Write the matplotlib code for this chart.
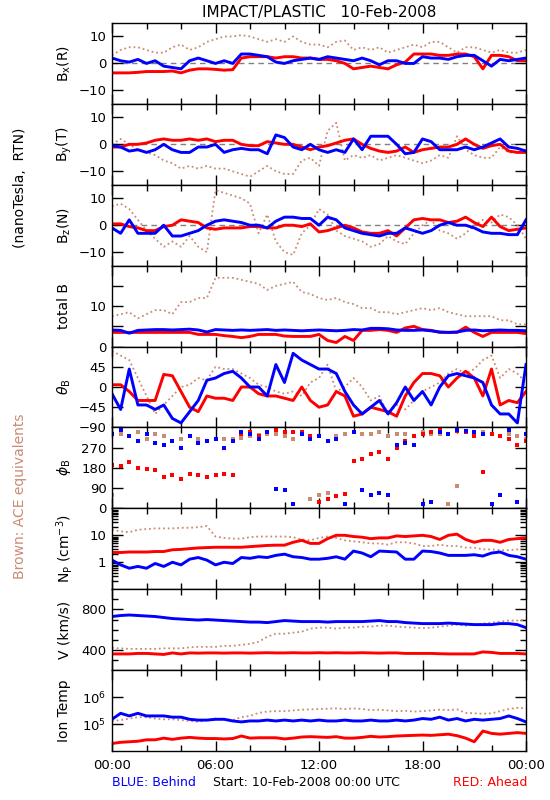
import numpy as np
import matplotlib
matplotlib.use("Agg")
import matplotlib.pyplot as plt
from matplotlib.ticker import LogLocator, NullFormatter, FixedLocator

plt.rcParams['font.family'] = ['DejaVu Sans']
plt.rcParams['mathtext.fontset'] = 'dejavusans'

# half-hour samples, 00:00 -> 24:00 (hours)
hours = np.arange(49) * 0.5

BLUE = "#0000ff"
RED = "#ff0000"
ACE = "#c98b72"

# ---- B_x (R) ----
bx_red = [-3.5, -3.5, -3.5, -3.3, -3, -3, -3, -2.8, -3.5, -2.5, -2, -2, -2.2, -2.5, -2.3,
          2, 2.5, 2.5, 2.5, 2, 2.5, 2.5, 2, 2, 1.5, 1.5, 1, 0, -2, -1.5, -1, -1.5, -2,
          -0.5, 0.5, 3.5, 3.5, 3.5, 3, 3, 3.5, 3.5, 2.5, -2, 3, 3, 2.5, 1, 1]
bx_blue = [2, 1, 0.5, 1.5, 0, 1, -1, -1.5, -2, 1, 2, 1, 0, 1, 0, 3.5, 3.5, 3, 2.5, 0.5,
           0, 1, 1.5, 2, 1.5, 2.5, 2, 1.5, 1, 2, 1, -0.5, 1, 1, 0, 0, 2.5, 2, 2, 1.5,
           2.5, 3, 3, 1, -1, 1.5, 1, 1.5, 2]
bx_ace = [3, 5, 6, 6, 5, 4, 4, 6, 7, 5, 6, 8, 9, 10, 10, 10.5, 10, 9, 8, 9, 8, 10, 8, 7,
          7, 6, 8, 8.5, 5, 6, 5, 6, 4, 5, 6, 7, 6, 8, 8, 6, 4, 6, 6, 5, 4, 5, 4, 4, 5]

# ---- B_y (T) ----
by_red = [-1, -1, 0, 0, 0.5, 1.5, 2, 1.5, 1.5, 2, 1.5, 2, 1, 1.5, 1.5, 0, -0.5, -0.5, 1,
          0.5, 0, 0, -1, -2, -1, -0.5, 0.5, 1.5, 2, 0, -1.5, -2.5, -3, -2.5, -1, -3, -2,
          -1.5, -1, -1, 0, 2, 0, -1.5, -0.5, 0, -2.5, -3, -3]
by_blue = [-0.5, -1, -2.5, -2, -3, -2, 0, -2, -3, -3, -1, -1, 0, -3, -2, -1.5, -2, -2,
           -3.5, 3.5, 2.5, -1, -2, 0, -2, -3, -2, -3, 2, -2, 3, 3, 3, 0, -3.5, -3, 2, 1,
           -2, -2, -2, -1, -2, -1, 0.5, 2, -1, -1.5, -2.5]
by_ace = [0, 2, 0, -2, -3, -4, -6, -7, -9, -8, -9, -8, -9, -9, -10, -11, -12, -10, -8,
          -10, -11, -11, -6, -5, -8, 5, 8, -6, -4, -5, -4, -6, -5, -4, -5, -6, -7, -6,
          -4, -5, 3, -2, -4, -5, -5, -1, -3, -3, -2]

# ---- B_z (N) ----
bz_red = [0.5, 0.5, -0.5, -1, -2, -2, -0.5, 0, 2, 1.5, 1, -1, -1.5, -1, -1, -1, -0.5,
          -0.5, -1, -1, 0, 0, -0.5, 0.5, -2.5, -2, -1, 0, -1, -2.5, -3, -3, -2, -4, -1,
          2, 2.5, 2, 2, 1, 1.5, 3, 1, -0.5, 3, -0.5, -2, -1.5, -1]
bz_blue = [-1, -3, 2, -3, -3, -3, 0, -4, -4, -3, -2, 0, 1.5, 2, 1.5, 1, 0, 0, -1, 1.5, 3,
           3, 2.5, 2.5, 0, 3, 2, -1, -2, -3, -3.5, -4, -3, -3, -1, -2, -3, -2, 0, 1, 0,
           0, -1, -2.5, -3, -3, -3.5, -3.5, 2]
bz_ace = [7, 8, 6, 2, -2, -5, -8, -6, -8, -4, -8, -10, 13, 12, 11, 10, 8, -3, 4, -6,
          -10, -11, -3, 0, 6, 4, -2, -4, -5, -6, -8, -7, -4, -6, -7, -3, 0, 2, -2, -3,
          -5, -3, 0, 2, 1, 4, 3, 0, -5]

# ---- total B ----
bt_red = [3.5, 3.5, 3.5, 3.5, 3.5, 3.5, 3.5, 3.5, 3.5, 3.5, 3, 3, 3, 2.7, 2.5, 2.2, 2.5,
          3, 3, 3, 2.6, 2.5, 2.5, 2.5, 3, 1.5, 1, 2.5, 1.5, 4, 4, 4.2, 4, 3.5, 4.6, 5,
          4.2, 4, 3.5, 3.5, 3.5, 4.8, 3.5, 2.5, 3.5, 3.5, 3.5, 3.5, 3.2]
bt_blue = [4.1, 4, 3.3, 4, 4.1, 4.2, 4.2, 4.1, 4.2, 4.3, 4.1, 3.6, 4.2, 4.1, 4, 4.1, 4,
           4.1, 4.2, 4, 4.1, 4, 3.9, 4, 4.1, 4, 3.9, 4, 4.2, 4.1, 4.5, 4.5, 4.4, 4.1, 4,
           4, 4.1, 3.9, 3.6, 3.5, 3.6, 4, 4.1, 3.9, 4, 4.1, 4, 4, 3.9]
bt_ace = [7.5, 8, 8.5, 7, 8, 9, 9, 8, 11, 11, 12, 12, 17, 17, 17, 16.5, 16, 15.5, 14,
          15, 15.5, 16, 13.5, 13, 12, 11.5, 12, 11, 10.5, 9.5, 9.5, 8.5, 8.5, 8, 8.5, 9,
          9.5, 9, 9.5, 8.5, 8, 7.5, 7.5, 7.5, 7.5, 6.5, 6.5, 5.5, 5.5]

# ---- theta_B ----
th_red = [5, 5, -10, -30, -30, -30, 28, 25, -10, -45, -55, -20, -25, -25, -30, 0, 0,
          -15, -20, -20, -25, -30, 0, -30, -45, -40, -10, -20, -65, -60, -45, -50, -55,
          -65, -20, 10, 30, 30, 25, 0, 20, 35, 20, -20, 40, -40, -30, -35, -10]
th_blue = [-15, -50, 40, -40, -40, -50, -40, -70, -80, -55, -30, 15, 20, 30, 35, 20, 0,
           0, -20, 50, 10, 75, 60, 50, 40, 40, 30, -10, -40, -60, -45, -30, -60, -35, 0,
           -30, -10, -40, 0, 25, 30, 25, 20, 10, -40, -60, -60, -80, 50]
th_ace = [80, 70, 60, 20, -20, -60, -40, -20, 0, 5, 20, 15, 45, 40, 40, 30, 20, 5, 0,
          -10, -15, -10, -20, 10, 20, 50, -10, 0, 20, 0, -30, -20, -60, -40, -50, -30,
          -10, 0, 10, 30, 40, 30, 40, 60, 70, 20, 40, 30, 10]

# ---- phi_B ----
ph_red = [195, 190, 205, 180, 175, 170, 140, 150, 130, 155, 150, 140, 150, 155, 150,
          330, 340, 320, 340, 350, 340, 340, 340, 320, 30, 40, 55, 65, 210, 220, 240,
          250, 220, 270, 300, 320, 330, 340, 350, 330, 345, 340, 320, 160, 330, 320,
          310, 280, 300]
ph_blue = [330, 350, 320, 300, 330, 290, 280, 300, 270, 320, 290, 300, 310, 270, 300,
           340, 330, 310, 340, 85, 80, 20, 330, 310, 320, 300, 310, 20, 340, 80, 60, 70,
           60, 280, 290, 280, 20, 30, 340, 330, 350, 345, 340, 330, 20, 60, 350, 30, 330]
ph_ace = [60, 330, 320, 340, 310, 330, 320, 300, 310, 320, 310, 300, 310, 310, 310, 315,
          320, 325, 330, 330, 320, 310, 330, 40, 60, 70, 320, 330, 340, 330, 330, 340,
          320, 330, 330, 320, 340, 330, 330, 20, 100, 340, 320, 340, 330, 320, 330, 320,
          310]

# ---- N_p ----
np_red = [2.3, 2.3, 2.4, 2.4, 2.4, 2.5, 2.5, 2.9, 3, 3.2, 3.4, 3.5, 3.6, 3.6, 3.6, 3.6,
          3.8, 4, 4.2, 4.3, 4.3, 5.5, 6.5, 5, 5, 7.5, 10, 10, 9, 8.5, 7.5, 8, 8, 9.5, 9,
          9.5, 10, 9, 7, 10, 11, 7, 5.5, 6.5, 6.5, 5.5, 7, 7.5, 8]
np_blue = [1.2, 0.8, 0.6, 0.7, 0.6, 0.9, 0.7, 1, 0.8, 1.3, 1.5, 1.2, 0.8, 1, 0.9, 1.5,
           1.4, 1.6, 1.5, 1.8, 2, 1.6, 1.5, 1.3, 1.3, 1.4, 1.6, 1.3, 2.6, 2.2, 1.6, 2.6,
           2.5, 2.4, 1.3, 1.3, 2.6, 2.5, 2.2, 1.8, 1.8, 1.8, 1.9, 1.7, 2.2, 2.4, 1.8, 1.6,
           1.3]
np_ace = [16, 14, 13, 16, 17, 18, 18, 18, 19, 19, 20, 22, 9, 8, 7.5, 7.5, 8.5, 9, 9, 9,
          9, 8.5, 7, 6.5, 8, 9, 8, 6.5, 6, 5.5, 5, 5, 4.5, 5.5, 5.5, 5, 4, 4, 4.5, 4, 4,
          3.5, 3.5, 3, 3, 2.8, 2.8, 3, 3.5]

# ---- V ----
v_red = [360, 360, 360, 365, 365, 360, 355, 370, 360, 370, 368, 370, 370, 368, 370, 370,
         368, 370, 372, 370, 370, 372, 370, 370, 372, 370, 372, 370, 370, 372, 370, 368,
         370, 370, 365, 365, 365, 365, 362, 360, 360, 360, 360, 380, 375, 365, 365, 365,
         360]
v_blue = [730, 740, 745, 740, 735, 730, 720, 710, 705, 700, 695, 700, 695, 690, 685,
          680, 675, 675, 670, 680, 690, 685, 680, 680, 680, 675, 680, 680, 680, 680, 685,
          690, 680, 680, 670, 665, 660, 660, 660, 665, 660, 655, 650, 650, 650, 660, 660,
          650, 620]
v_ace = [420, 415, 410, 410, 410, 410, 415, 415, 415, 425, 430, 430, 430, 440, 440, 450,
         460, 480, 530, 560, 560, 570, 580, 610, 620, 620, 610, 620, 620, 630, 630, 640,
         640, 630, 625, 620, 615, 620, 630, 640, 650, 640, 650, 660, 670, 680, 690, 690,
         700]

# ---- Ion temperature ----
t_red = [1.9e4, 2.1e4, 2.2e4, 2.3e4, 2.6e4, 2.6e4, 3.0e4, 2.7e4, 3.0e4, 3.2e4, 3.0e4,
         2.9e4, 2.9e4, 2.8e4, 2.9e4, 3.6e4, 3.0e4, 3.1e4, 3.1e4, 3.1e4, 2.8e4, 3.0e4,
         3.3e4, 3.4e4, 3.3e4, 3.2e4, 3.4e4, 3.0e4, 3.0e4, 3.2e4, 3.5e4, 3.3e4, 3.4e4,
         3.6e4, 3.7e4, 3.8e4, 3.9e4, 3.8e4, 4.0e4, 4.2e4, 3.7e4, 3.0e4, 2.2e4, 5.5e4,
         4.5e4, 4.2e4, 4.5e4, 4.8e4, 4.5e4]
t_blue = [1.5e5, 2.5e5, 2.0e5, 2.5e5, 2.0e5, 2.0e5, 2.0e5, 1.8e5, 1.8e5, 1.5e5, 1.4e5,
          1.4e5, 1.5e5, 1.5e5, 1.3e5, 1.2e5, 1.3e5, 1.3e5, 1.4e5, 1.3e5, 1.4e5, 1.3e5,
          1.4e5, 1.3e5, 1.4e5, 1.3e5, 1.3e5, 1.4e5, 1.3e5, 1.3e5, 1.4e5, 1.3e5, 1.3e5,
          1.4e5, 1.3e5, 1.4e5, 1.6e5, 1.5e5, 1.8e5, 1.4e5, 1.6e5, 1.3e5, 1.5e5, 1.4e5,
          1.5e5, 1.6e5, 2.0e5, 1.6e5, 1.2e5]
t_ace = [1.3e5, 1.4e5, 1.6e5, 1.8e5, 1.8e5, 1.6e5, 1.5e5, 1.5e5, 1.4e5, 1.3e5, 1.2e5,
         1.4e5, 1.6e5, 1.5e5, 1.4e5, 1.8e5, 2.0e5, 2.6e5, 2.9e5, 3.0e5, 3.0e5, 3.2e5,
         3.4e5, 3.5e5, 3.6e5, 3.7e5, 3.8e5, 3.6e5, 3.8e5, 3.6e5, 3.3e5, 3.4e5, 3.2e5,
         3.0e5, 3.1e5, 2.9e5, 3.0e5, 3.2e5, 3.4e5, 3.3e5, 3.5e5, 2.6e5, 2.5e5, 2.4e5,
         2.5e5, 3.0e5, 3.6e5, 4.0e5, 3.8e5]

panels = [
    ("B$_{\\rm x}$(R)", bx_ace, bx_red, bx_blue, (-15, 15), [-10, 0, 10], ["\u221210", "0", "10"], True),
    ("B$_{\\rm y}$(T)", by_ace, by_red, by_blue, (-15, 15), [-10, 0, 10], ["\u221210", "0", "10"], True),
    ("B$_{\\rm z}$(N)", bz_ace, bz_red, bz_blue, (-15, 15), [-10, 0, 10], ["\u221210", "0", "10"], True),
    ("total B", bt_ace, bt_red, bt_blue, (0, 20), [0, 5, 10, 15], ["0", "", "10", ""], False),
    ("$\\theta_{\\rm B}$", th_ace, th_red, th_blue, (-90, 90), [-90, -45, 0, 45], ["\u221290", "\u221245", "0", "45"], False),
    ("$\\phi_{\\rm B}$", ph_ace, ph_red, ph_blue, (0, 360), [0, 90, 180, 270], ["0", "90", "180", "270"], False),
    ("N$_{\\rm P}$ (cm$^{-3}$)", np_ace, np_red, np_blue, (0.1, 100), [1, 10], ["1", "10"], False),
    ("V (km/s)", v_ace, v_red, v_blue, (200, 1000), [400, 800], ["400", "800"], False),
    ("Ion Temp", t_ace, t_red, t_blue, (1e4, 1e7), [1e5, 1e6], ["10$^5$", "10$^6$"], False),
]

fig, axes = plt.subplots(len(panels), 1, figsize=(5.5, 8), dpi=100, sharex=True)
fig.subplots_adjust(left=112 / 550, right=526 / 550, top=1 - 23 / 800,
                    bottom=1 - 751 / 800, hspace=0)

for i, (ax, (label, ace, red, blue, ylim, ticks, ticklabels, zero)) in enumerate(zip(axes, panels)):
    if i == 5:
        # azimuth wraps around, so draw points only
        ax.plot(hours, ace, "s", color=ACE, ms=2.2, mew=0)
        ax.plot(hours, red, "s", color=RED, ms=3.4, mew=0)
        ax.plot(hours, blue, "s", color=BLUE, ms=3.4, mew=0)
    else:
        ax.plot(hours, ace, color=ACE, lw=1.3, linestyle=(0, (1, 1.6)))
        ax.plot(hours, red, "-", color=RED, lw=2.1)
        ax.plot(hours, blue, "-", color=BLUE, lw=2.1)
    if zero:
        ax.axhline(0, color="gray", lw=1, dashes=(4, 3), zorder=0)
    if label in ("N$_{\\rm P}$ (cm$^{-3}$)", "Ion Temp"):
        ax.set_yscale("log")
        ax.yaxis.set_minor_locator(LogLocator(base=10, subs=np.arange(2, 10)))
        ax.yaxis.set_minor_formatter(NullFormatter())
    elif label == "V (km/s)":
        ax.yaxis.set_minor_locator(FixedLocator([300, 500, 600, 700, 900]))
    ax.set_ylim(*ylim)
    ax.set_yticks(ticks)
    ax.set_yticklabels(ticklabels)
    ax.text(-0.115, 0.5, label, rotation=90, transform=ax.transAxes,
            ha="center", va="center", fontsize=10)
    ax.tick_params(axis="both", which="both", direction="in", top=True, right=True,
                   labelsize=9.5, width=1)
    ax.tick_params(axis="y", which="major", length=8, pad=4)
    ax.tick_params(axis="y", which="minor", length=4)
    ax.tick_params(axis="x", which="major", length=7)
    ax.tick_params(axis="x", which="minor", length=4)
    for s in ax.spines.values():
        s.set_linewidth(1)

axes[-1].set_xlim(0, 24)
axes[-1].set_xticks([0, 6, 12, 18, 24])
axes[-1].set_xticks(np.arange(0, 25, 2), minor=True)
axes[-1].set_xticklabels(["00:00", "06:00", "12:00", "18:00", "00:00"])
axes[-1].tick_params(axis="x", labelsize=9.5, pad=6)

fig.text(319 / 550, 1 - 12 / 800, "IMPACT/PLASTIC   10-Feb-2008", ha="center",
         va="center", fontsize=11)
fig.text(20 / 550, 1 - 188 / 800, "(nanoTesla,  RTN)", rotation=90, ha="center",
         va="center", fontsize=10)
fig.text(20 / 550, 1 - 496 / 800, "Brown: ACE equivalents", rotation=90, ha="center",
         va="center", fontsize=10, color=ACE)
fig.text(112 / 550, 1 - 783 / 800, "BLUE: Behind", ha="left", va="center",
         fontsize=9, color=BLUE)
fig.text(213 / 550, 1 - 783 / 800, "Start: 10-Feb-2008 00:00 UTC", ha="left",
         va="center", fontsize=9)
fig.text(527 / 550, 1 - 783 / 800, "RED: Ahead", ha="right", va="center",
         fontsize=9, color=RED)

plt.savefig("out.png", dpi=100)
plt.close()
